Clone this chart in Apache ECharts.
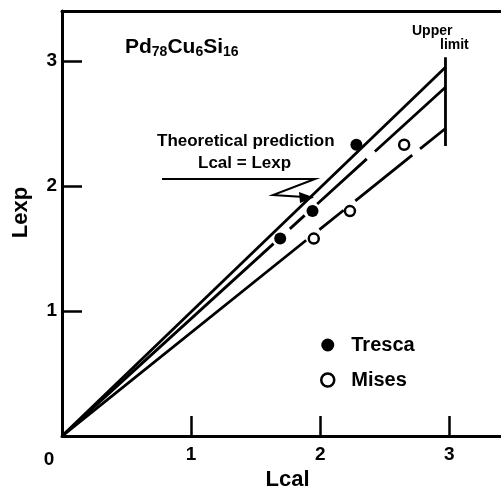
<!DOCTYPE html>
<html>
<head>
<meta charset="utf-8">
<script src="https://cdn.jsdelivr.net/npm/echarts@6.0.0/dist/echarts.min.js"></script>
<style>
    html, body { margin: 0; padding: 0; background: #fff; }
    #chart { width: 501px; height: 496px; }
</style>
</head>
<body>
<div id="chart"></div>
<script>
// values
var tickValues = [1, 2, 3];
var trescaLcal = [1.69, 1.94, 2.28];
var trescaLexp = [1.58, 1.80, 2.33];
var misesLcal = [1.95, 2.23, 2.65];
var misesLexp = [1.58, 1.80, 2.33];
// straight lines, start and end points
var theoryLine = [[0, 0], [2.97, 2.95]];
var trescaLine = [[0, 0], [2.97, 2.79]];
var misesLine = [[0, 0], [2.97, 2.46]];
var upperLimit = [[2.97, 2.32], [2.97, 3.03]];

var font = 'Liberation Sans';

function zip(xs, ys) {
    return xs.map(function (x, i) { return [x, ys[i]]; });
}

function lineSeries(name, data, dash) {
    return {
        name: name,
        type: 'line',
        data: data,
        symbol: 'none',
        silent: true,
        z: 2,
        lineStyle: { color: '#000', width: 2.8, type: dash || 'solid', cap: 'butt' }
    };
}

var myChart = echarts.init(document.getElementById('chart'));

var option = {
    animation: false,
    grid: { left: 62, right: 0, top: 11, bottom: 53 },
    legend: {
        orient: 'vertical',
        left: 315,
        top: 330,
        itemWidth: 13,
        itemHeight: 13,
        itemGap: 15,
        selectedMode: false,
        data: [
            { name: 'Tresca', icon: 'circle', itemStyle: { color: '#000', opacity: 1 } },
            { name: 'Mises', icon: 'circle', itemStyle: { color: '#fff', borderColor: '#000', borderWidth: 2.5, opacity: 1 } }
        ],
        textStyle: { fontFamily: font, fontWeight: 'bold', fontSize: 20, color: '#000', padding: [0, 0, 0, 12] }
    },
    xAxis: [
        {
            type: 'value',
            min: 0,
            max: 3.4,
            name: 'Lcal',
            nameLocation: 'middle',
            nameGap: 30,
            nameTextStyle: { fontFamily: font, fontWeight: 'bold', fontSize: 22, color: '#000', padding: [0, 0, 0, 12] },
            axisLine: { onZero: false, lineStyle: { color: '#000', width: 3 } },
            axisTick: { inside: true, length: 20, customValues: tickValues, lineStyle: { color: '#000', width: 2.5 } },
            axisLabel: { customValues: tickValues, margin: 9, fontFamily: font, fontWeight: 'bold', fontSize: 19, color: '#000' },
            splitLine: { show: false }
        },
        {
            // top frame line
            type: 'value',
            position: 'top',
            min: 0,
            max: 3.4,
            axisLine: { show: true, onZero: false, lineStyle: { color: '#000', width: 3 } },
            axisTick: { show: false },
            axisLabel: { show: false },
            splitLine: { show: false }
        }
    ],
    yAxis: {
        type: 'value',
        min: 0,
        max: 3.4,
        name: 'Lexp',
        nameLocation: 'middle',
        nameRotate: 90,
        nameGap: 30,
        nameTextStyle: { fontFamily: font, fontWeight: 'bold', fontSize: 22, color: '#000', padding: [0, 0, 0, 22] },
        axisLine: { onZero: false, lineStyle: { color: '#000', width: 3 } },
        axisTick: { inside: true, length: 20, customValues: tickValues, lineStyle: { color: '#000', width: 2.5 } },
        axisLabel: { customValues: tickValues, margin: 5, fontFamily: font, fontWeight: 'bold', fontSize: 19, color: '#000' },
        splitLine: { show: false }
    },
    graphic: [
        {
            type: 'text', left: 125, top: 37,
            style: {
                text: 'Pd{s|78}Cu{s|6}Si{s|16}',
                font: 'bold 21px "Liberation Sans"',
                fill: '#000',
                rich: { s: { fontSize: 14, fontWeight: 'bold', padding: [9, 0, 0, 0] } }
            }
        },
        { type: 'text', left: 157, top: 133, style: { text: 'Theoretical prediction', font: 'bold 17px "Liberation Sans"', fill: '#000' } },
        { type: 'text', left: 198, top: 155, style: { text: 'Lcal = Lexp', font: 'bold 17px "Liberation Sans"', fill: '#000' } },
        {
            type: 'polyline',
            shape: { points: [[162, 179], [315, 179], [273, 195], [304, 197]] },
            style: { stroke: '#000', lineWidth: 2, fill: null }
        },
        { type: 'polygon', shape: { points: [[314, 197.5], [299, 192], [300, 203]] }, style: { fill: '#000' } },
        { type: 'text', left: 412, top: 24, style: { text: 'Upper', font: 'bold 14px "Liberation Sans"', fill: '#000' } },
        { type: 'text', left: 440, top: 38, style: { text: 'limit', font: 'bold 14px "Liberation Sans"', fill: '#000' } },
        { type: 'text', x: 49, y: 460, style: { text: '0', font: 'bold 19px "Liberation Sans"', fill: '#000', textAlign: 'center', textVerticalAlign: 'middle' } }
    ],
    series: [
        lineSeries('theory', theoryLine),
        lineSeries('trescaFit', trescaLine, [286, 22, 20, 17, 67, 11, 300, 1]),
        lineSeries('misesFit', misesLine, [313, 17, 31, 15, 73, 10, 300, 1]),
        lineSeries('upperLimit', upperLimit),
        {
            name: 'Tresca',
            type: 'scatter',
            data: zip(trescaLcal, trescaLexp),
            symbol: 'circle',
            symbolSize: 12,
            z: 5,
            itemStyle: { color: '#000', opacity: 1 }
        },
        {
            name: 'Mises',
            type: 'scatter',
            data: zip(misesLcal, misesLexp),
            symbol: 'circle',
            symbolSize: 10,
            z: 5,
            itemStyle: { color: '#fff', borderColor: '#000', borderWidth: 2.5, opacity: 1 }
        }
    ]
};

myChart.setOption(option);
</script>
</body>
</html>
